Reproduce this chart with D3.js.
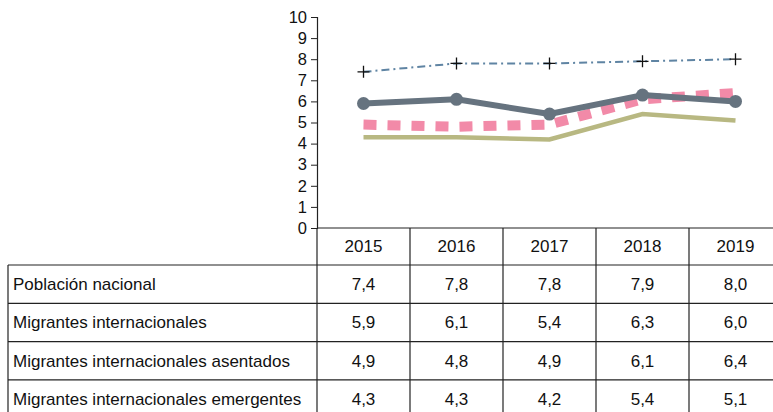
<!DOCTYPE html>
<html>
<head>
<meta charset="utf-8">
<script src="https://cdn.jsdelivr.net/npm/d3@7"></script>
<style>
  html, body { margin: 0; padding: 0; background: #fff; }
  svg { display: block; font-family: "Liberation Sans", Arial, sans-serif; }
</style>
</head>
<body>
<svg id="chart" width="773" height="412"></svg>
<script>
(function () {
  "use strict";

  var years = ["2015", "2016", "2017", "2018", "2019"];
  var seriesNames = ["Población nacional", "Migrantes internacionales",
                     "Migrantes internacionales asentados", "Migrantes internacionales emergentes"];
  var nacional = [7.4, 7.8, 7.8, 7.9, 8.0];
  var migrantes = [5.9, 6.1, 5.4, 6.3, 6.0];
  var asentados = [4.9, 4.8, 4.9, 6.1, 6.4];
  var emergentes = [4.3, 4.3, 4.2, 5.4, 5.1];
  var yTicks = [0, 1, 2, 3, 4, 5, 6, 7, 8, 9, 10];

  var series = [nacional, migrantes, asentados, emergentes];

  var svg = d3.select("#chart");
  var X0 = 317, COLW = 93, YTOP = 17, YBOT = 228;
  var ROW0 = 265, ROWH = 38.3, TLEFT = 8;

  var x = d3.scaleBand().domain(years).range([X0, X0 + COLW * years.length]).padding(0);
  var y = d3.scaleLinear().domain([0, 10]).range([YBOT, YTOP]);
  var cx = function (i) { return x(years[i]) + x.bandwidth() / 2; };

  // y axis
  var ay = svg.append("g").attr("transform", "translate(" + X0 + ",0)")
    .call(d3.axisLeft(y).tickValues(yTicks).tickSize(6).tickPadding(4).tickFormat(d3.format("d")));
  ay.select(".domain").attr("stroke", "#222").attr("stroke-width", 1.2);
  ay.selectAll("line").attr("stroke", "#222");
  ay.selectAll("text").attr("fill", "#111").style("font-size", "16.5px")
    .style("font-family", "Liberation Sans, Arial, sans-serif");

  // lines
  var line = function (vals) {
    return d3.line().x(function (d, i) { return cx(i); }).y(function (d) { return y(d); })(vals);
  };

  svg.append("path").attr("d", line(emergentes)).attr("fill", "none")
    .attr("stroke", "#b8b882").attr("stroke-width", 4.5);

  svg.append("path").attr("d", line(asentados)).attr("fill", "none")
    .attr("stroke", "#f28aa8").attr("stroke-width", 10).attr("stroke-dasharray", "13 11");

  svg.append("path").attr("d", line(migrantes)).attr("fill", "none")
    .attr("stroke", "#66737f").attr("stroke-width", 6).attr("stroke-linejoin", "round");
  svg.selectAll("circle.m").data(migrantes).enter().append("circle")
    .attr("cx", function (d, i) { return cx(i); }).attr("cy", function (d) { return y(d); })
    .attr("r", 6.5).attr("fill", "#66737f");

  svg.append("path").attr("d", line(nacional)).attr("fill", "none")
    .attr("stroke", "#5f84a3").attr("stroke-width", 2).attr("stroke-dasharray", "8 4 2 4");
  svg.selectAll("path.plus").data(nacional).enter().append("path")
    .attr("d", "M-6,0H6M0,-6V6")
    .attr("transform", function (d, i) { return "translate(" + cx(i) + "," + y(d) + ")"; })
    .attr("stroke", "#111").attr("stroke-width", 1.3);

  // table
  var grid = svg.append("g").attr("stroke", "#222").attr("stroke-width", 1.2);
  var right = X0 + COLW * years.length;
  grid.append("line").attr("x1", X0).attr("x2", right).attr("y1", YBOT).attr("y2", YBOT);
  grid.append("line").attr("x1", X0).attr("x2", X0).attr("y1", YBOT).attr("y2", 412);
  years.forEach(function (yr, i) {
    if (i === 0) return;
    grid.append("line").attr("x1", x(yr)).attr("x2", x(yr)).attr("y1", YBOT).attr("y2", 412);
  });
  grid.append("line").attr("x1", TLEFT).attr("x2", TLEFT).attr("y1", ROW0).attr("y2", 412);
  for (var r = 0; r < seriesNames.length; r++) {
    grid.append("line").attr("x1", TLEFT).attr("x2", right)
      .attr("y1", ROW0 + r * ROWH).attr("y2", ROW0 + r * ROWH);
  }

  var txt = svg.append("g").attr("fill", "#111").style("font-size", "17px");
  years.forEach(function (yr, i) {
    txt.append("text").attr("x", cx(i)).attr("y", (YBOT + ROW0) / 2)
      .attr("dy", "0.35em").attr("text-anchor", "middle").text(yr);
  });
  var fmt = function (v) { return d3.format(".1f")(v).replace(".", ","); };
  seriesNames.forEach(function (name, r) {
    var yc = ROW0 + r * ROWH + ROWH / 2;
    txt.append("text").attr("x", TLEFT + 5).attr("y", yc).attr("dy", "0.35em").text(name);
    series[r].forEach(function (v, i) {
      txt.append("text").attr("x", cx(i)).attr("y", yc).attr("dy", "0.35em")
        .attr("text-anchor", "middle").text(fmt(v));
    });
  });
})();
</script>
</body>
</html>
